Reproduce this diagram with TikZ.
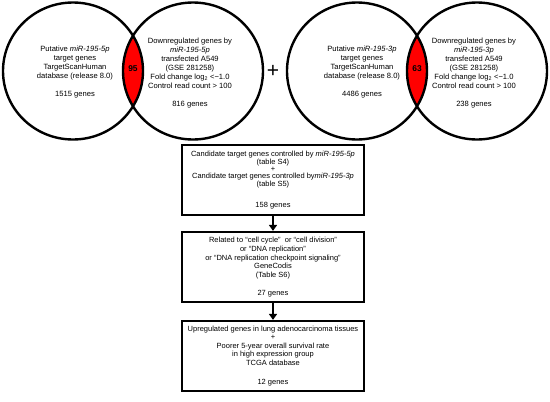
\documentclass[tikz,border=0pt]{standalone}
\usepackage{fontspec}
\setmainfont{Liberation Sans}
\usetikzlibrary{arrows.meta}
\begin{document}
\begin{tikzpicture}[x=1pt,y=-1pt,
  venn/.style={line width=2.4pt},
  lbl/.style={align=center,font=\fontsize{7.6}{9}\selectfont,inner sep=0pt},
  num/.style={font=\fontsize{8.4}{9}\selectfont\bfseries,inner sep=0pt},
  flowbox/.style={draw,line width=2.2pt,minimum width=182pt,minimum height=70pt,align=center,font=\fontsize{7.5}{8.7}\selectfont,inner sep=0pt},
  flowarrow/.style={line width=2pt,-{Triangle[width=8pt,length=6pt]}}
]
\useasboundingbox (0,0) rectangle (550,402);

% Venn 1
\coordinate (A) at (73,71);
\coordinate (B) at (193,71);
\begin{scope}
  \clip (A) ellipse [x radius=70pt, y radius=68.5pt];
  \fill[red] (B) ellipse [x radius=70pt, y radius=68.5pt];
\end{scope}
\draw[venn] (A) ellipse [x radius=70pt, y radius=68.5pt];
\draw[venn] (B) ellipse [x radius=70pt, y radius=68.5pt];
\node[lbl] (t1) at (75,72.5) {Putative \textit{miR-195-5p}\\target genes\\TargetScanHuman\\database (release 8.0)\\[9pt]1515 genes};
\node[lbl] (t2) at (190,73.5) {Downregulated genes by\\\textit{miR-195-5p}\\transfected A549\\(GSE 281258)\\Fold change log\textsubscript{2} <−1.0\\Control read count > 100\\[9pt]816 genes};
\node[num] (n1) at (133,69) {95};

\node[inner sep=0pt] (plus) at (273,71) {\fontsize{21}{21}\selectfont +};

% Venn 2
\coordinate (C) at (357,71);
\coordinate (D) at (477,71);
\begin{scope}
  \clip (C) ellipse [x radius=70pt, y radius=68.5pt];
  \fill[red] (D) ellipse [x radius=70pt, y radius=68.5pt];
\end{scope}
\draw[venn] (C) ellipse [x radius=70pt, y radius=68.5pt];
\draw[venn] (D) ellipse [x radius=70pt, y radius=68.5pt];
\node[lbl] (t3) at (362,72.5) {Putative \textit{miR-195-3p}\\target genes\\TargetScanHuman\\database (release 8.0)\\[9pt]4486 genes};
\node[lbl] (t4) at (474,73.5) {Downregulated genes by\\\textit{miR-195-3p}\\transfected A549\\(GSE 281258)\\Fold change log\textsubscript{2} <−1.0\\Control read count > 100\\[9pt]238 genes};
\node[num] (n2) at (417,69) {63};

% Flow boxes
\node[flowbox] (b1) at (273,180) {Candidate target genes controlled by \textit{miR-195-5p}\\(table S4)\\[-2pt]+\\[-2pt]Candidate target genes controlled by\textit{miR-195-3p}\\(table S5)\\[12pt]158 genes};
\node[flowbox] (b2) at (273,267) {Related to “cell cycle”\ \ or “cell division”\\or “DNA replication”\\or “DNA replication checkpoint signaling”\\GeneCodis\\(Table S6)\\[8.7pt]27 genes};
\node[flowbox] (b3) at (273,356) {Upregulated genes in lung adenocarcinoma tissues\\[-1pt]+\\Poorer 5-year overall survival rate\\in high expression group\\TCGA database\\[9.7pt]12 genes};

\draw[flowarrow] (b1) -- (b2);
\draw[flowarrow] (b2) -- (b3);
\end{tikzpicture}
\end{document}
